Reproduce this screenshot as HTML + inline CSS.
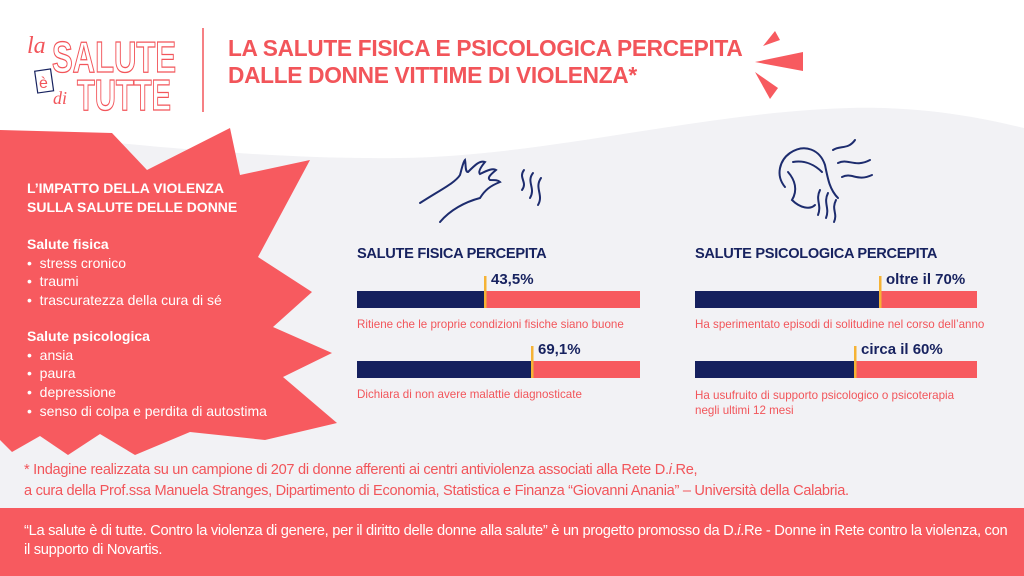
<!DOCTYPE html>
<html><head><meta charset="utf-8"><style>
html,body{margin:0;padding:0}
body{width:1024px;height:576px;position:relative;overflow:hidden;background:#fff;font-family:"Liberation Sans",sans-serif}
.a{position:absolute;white-space:nowrap}
.w{color:#fff}
.n{color:#17225f}
.r{color:#f2555a}
</style></head><body>
<svg class="a" style="left:0;top:0" width="1024" height="576">
<path d="M0,132 C100,140 250,160 400,158 C550,156 700,112 850,108 C930,106 990,120 1024,128 L1024,576 L0,576 Z" fill="#f2f2f5"/>
<rect x="0" y="508" width="1024" height="68" fill="#f75a5f"/>
<polygon points="0,130 112,133 147,170 230,128 240,175 310,160 258,257 312,292 273,327 332,353 283,377 337,423 265,440 190,432 135,455 100,434 68,455 40,436 12,452 0,440" fill="#f75a5f"/>
<polygon points="763,46 775,31 780,40" fill="#f75a5f"/>
<polygon points="755,62 803,52 803,71" fill="#f75a5f"/>
<polygon points="755,72 778,88 770,99" fill="#f75a5f"/>
<line x1="203" y1="28" x2="203" y2="112" stroke="#f2555a" stroke-width="1.5"/>
<g font-family="Liberation Sans" font-weight="bold" fill="#fff" stroke="#f2555a" stroke-width="1.3">
<text x="52" y="72" font-size="44" textLength="124" lengthAdjust="spacingAndGlyphs">SALUTE</text>
<text x="77" y="110" font-size="44" textLength="94" lengthAdjust="spacingAndGlyphs">TUTTE</text>
</g>
<text x="27" y="53" font-size="24" font-style="italic" fill="#f2555a" font-family="Liberation Serif">la</text>
<rect x="36" y="70" width="16" height="22" fill="#fff" stroke="#17225f" stroke-width="1.2" transform="rotate(-8 44 80)"/>
<text x="39" y="88" font-size="16" fill="#f2555a">è</text>
<text x="53" y="104" font-size="18" font-style="italic" fill="#f2555a" font-family="Liberation Serif">di</text>
<g fill="none" stroke="#1d2c6e" stroke-width="2" stroke-linecap="round">
<path d="M420,203 C440,190 455,183 460,175 C462,168 463,162 465,160 C466,165 465,172 468,172 C475,165 480,160 485,162 C480,168 478,172 480,174 C488,170 493,168 496,170 C490,175 487,178 490,180 C495,180 498,180 500,182 C490,186 485,190 480,198 C465,202 450,210 440,222"/>
<path d="M522,190 C528,182 518,178 524,170 M530,198 C536,188 526,182 533,173 M538,205 C544,195 534,188 541,178"/>
<path d="M785,187 C775,175 780,160 790,153 C805,143 820,150 825,165 C828,180 830,190 838,198 M793,162 C805,160 815,165 822,172 M788,172 C795,180 798,190 792,200 C800,208 810,210 815,205 M820,190 C815,200 822,205 818,215 M828,193 C823,203 830,208 826,218 M836,200 C831,210 838,213 834,222"/>
<path d="M833,150 C840,145 848,150 855,140 M838,163 C848,158 855,168 870,160 M842,177 C852,172 857,182 872,175"/>
</g>
<rect x="357" y="291" width="283" height="17" fill="#f75a5f"/><rect x="357" y="291" width="128" height="17" fill="#15205e"/><rect x="484" y="276" width="2.5" height="32" fill="#f5b335"/>
<rect x="357" y="361" width="283" height="17" fill="#f75a5f"/><rect x="357" y="361" width="175" height="17" fill="#15205e"/><rect x="531" y="346" width="2.5" height="32" fill="#f5b335"/>
<rect x="695" y="291" width="282" height="17" fill="#f75a5f"/><rect x="695" y="291" width="185" height="17" fill="#15205e"/><rect x="879" y="276" width="2.5" height="32" fill="#f5b335"/>
<rect x="695" y="361" width="282" height="17" fill="#f75a5f"/><rect x="695" y="361" width="160" height="17" fill="#15205e"/><rect x="854" y="346" width="2.5" height="32" fill="#f5b335"/>
</svg>
<div class="a r" style="left:228px;top:35px;font-size:22.7px;font-weight:bold;line-height:27px;letter-spacing:-0.3px">LA SALUTE FISICA E PSICOLOGICA PERCEPITA<br>DALLE DONNE VITTIME DI VIOLENZA*</div>
<div class="a w" style="left:27px;top:179px;font-size:14px;font-weight:bold;line-height:19px">L’IMPATTO DELLA VIOLENZA<br>SULLA SALUTE DELLE DONNE</div>
<div class="a w" style="left:27px;top:235px;font-size:14px;line-height:18.7px"><b>Salute fisica</b><br>•&nbsp; stress cronico<br>•&nbsp; traumi<br>•&nbsp; trascuratezza della cura di sé</div>
<div class="a w" style="left:27px;top:327px;font-size:14px;line-height:18.7px"><b>Salute psicologica</b><br>•&nbsp; ansia<br>•&nbsp; paura<br>•&nbsp; depressione<br>•&nbsp; senso di colpa e perdita di autostima</div>
<div class="a n" style="left:357px;top:246px;font-size:14.6px;font-weight:bold;letter-spacing:-0.3px">SALUTE FISICA PERCEPITA</div>
<div class="a n" style="left:695px;top:246px;font-size:14.6px;font-weight:bold;letter-spacing:-0.3px">SALUTE PSICOLOGICA PERCEPITA</div>
<div class="a n" style="left:491px;top:271px;font-size:15px;font-weight:bold">43,5%</div>
<div class="a n" style="left:538px;top:341px;font-size:15px;font-weight:bold">69,1%</div>
<div class="a n" style="left:886px;top:271px;font-size:15px;font-weight:bold">oltre il 70%</div>
<div class="a n" style="left:861px;top:341px;font-size:15px;font-weight:bold">circa il 60%</div>
<div class="a r" style="left:357px;top:318px;font-size:11.6px">Ritiene che le proprie condizioni fisiche siano buone</div>
<div class="a r" style="left:357px;top:388px;font-size:11.6px">Dichiara di non avere malattie diagnosticate</div>
<div class="a r" style="left:695px;top:318px;font-size:11.6px">Ha sperimentato episodi di solitudine nel corso dell’anno</div>
<div class="a r" style="left:695px;top:388px;font-size:11.6px;line-height:15px">Ha usufruito di supporto psicologico o psicoterapia<br>negli ultimi 12 mesi</div>
<div class="a r" style="left:24px;top:460px;font-size:14.6px;line-height:21px;letter-spacing:-0.3px">* Indagine realizzata su un campione di 207 di donne afferenti ai centri antiviolenza associati alla Rete D.<i>i</i>.Re,<br>a cura della Prof.ssa Manuela Stranges, Dipartimento di Economia, Statistica e Finanza “Giovanni Anania” – Università della Calabria.</div>
<div class="a w" style="left:24px;top:522px;font-size:14.7px;line-height:19px;letter-spacing:-0.3px">“La salute è di tutte. Contro la violenza di genere, per il diritto delle donne alla salute” è un progetto promosso da D.<i>i</i>.Re - Donne in Rete contro la violenza, con<br>il supporto di Novartis.</div>
</body></html>
